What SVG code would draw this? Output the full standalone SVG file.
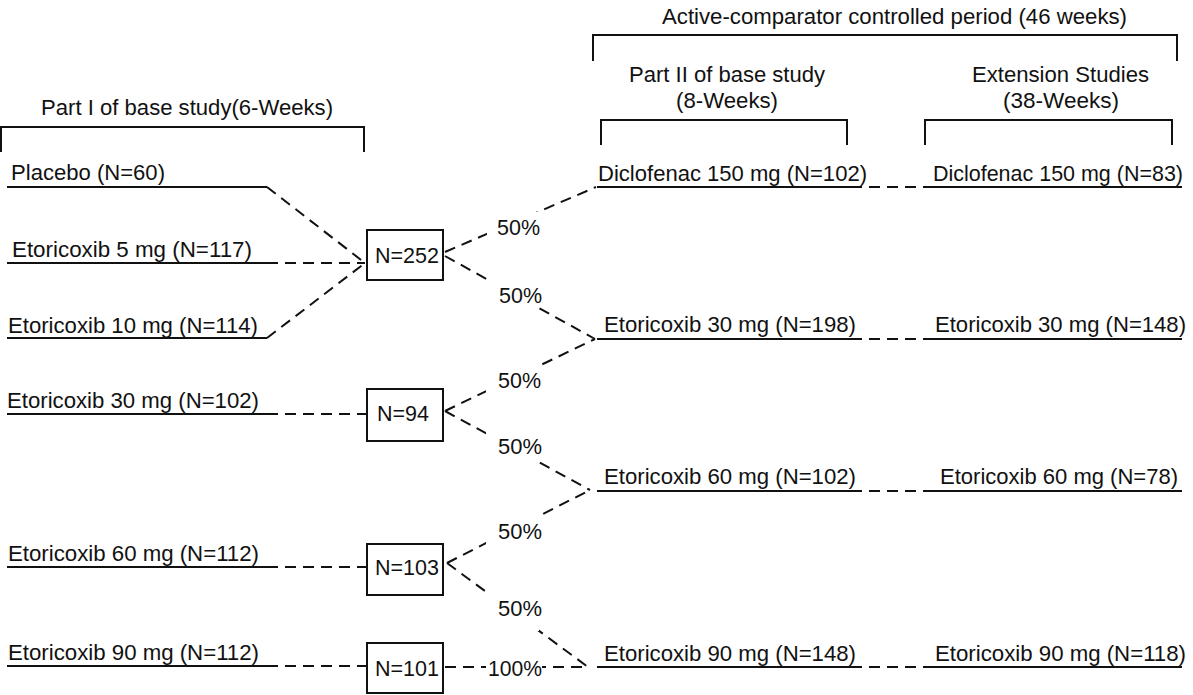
<svg xmlns="http://www.w3.org/2000/svg" width="1193" height="695" viewBox="0 0 1193 695">
<style>
text{font-family:"Liberation Sans",Arial,sans-serif;font-size:22px;fill:#111;}
.solid{stroke:#111;stroke-width:2;fill:none;}
.dash{stroke:#111;stroke-width:2;fill:none;stroke-dasharray:11 7;}
.box{stroke:#111;stroke-width:2;fill:#fff;}
.bg{fill:#fff;stroke:none;}
</style>
<rect x="0" y="0" width="1193" height="695" fill="#fff"/>

<g id="headers">
  <text x="662" y="24" textLength="465" lengthAdjust="spacingAndGlyphs">Active-comparator controlled period (46 weeks)</text>
  <path class="solid" d="M593,61 V35 H1177 V61"/>
  <text x="629" y="82" textLength="196" lengthAdjust="spacingAndGlyphs">Part II of base study</text>
  <text x="676" y="108" textLength="102" lengthAdjust="spacingAndGlyphs">(8-Weeks)</text>
  <path class="solid" d="M601,145 V120 H847 V145"/>
  <text x="972" y="82" textLength="177" lengthAdjust="spacingAndGlyphs">Extension Studies</text>
  <text x="1003" y="108" textLength="116" lengthAdjust="spacingAndGlyphs">(38-Weeks)</text>
  <path class="solid" d="M925,145 V120 H1172 V145"/>
  <text x="41" y="115" textLength="292" lengthAdjust="spacingAndGlyphs">Part I of base study(6-Weeks)</text>
  <path class="solid" d="M1,152 V127 H364 V152"/>
</g>

<g id="connectors">
  <path class="dash" d="M267,187 L365,263"/>
  <path class="dash" d="M267,263 L365,263"/>
  <path class="dash" d="M267,338 L365,263"/>
  <path class="dash" d="M445,252 L596,187"/>
  <path class="dash" d="M445,256 L595,339"/>
  <path class="dash" d="M267,414 L367,414"/>
  <path class="dash" d="M445,411 L595,339"/>
  <path class="dash" d="M445,411 L590,490"/>
  <path class="dash" d="M267,567 L367,567"/>
  <path class="dash" d="M447,563 L590,490"/>
  <path class="dash" d="M447,563 L588,667"/>
  <path class="dash" d="M267,666 L367,666"/>
  <path class="dash" d="M445,667 L588,667"/>
  <path class="dash" d="M851,187 L928,187"/>
  <path class="dash" d="M851,339 L928,339"/>
  <path class="dash" d="M851,491 L928,491"/>
  <path class="dash" d="M851,667 L928,667"/>
  <rect class="bg" x="487" y="212" width="53" height="30"/>
  <text x="497" y="235" textLength="43" lengthAdjust="spacingAndGlyphs">50%</text>
  <rect class="bg" x="486" y="279" width="53" height="30"/>
  <text x="499" y="303" textLength="43" lengthAdjust="spacingAndGlyphs">50%</text>
  <rect class="bg" x="486" y="365" width="54" height="30"/>
  <text x="498" y="388" textLength="43" lengthAdjust="spacingAndGlyphs">50%</text>
  <rect class="bg" x="486" y="431" width="53" height="31"/>
  <text x="498" y="454" textLength="44" lengthAdjust="spacingAndGlyphs">50%</text>
  <rect class="bg" x="486" y="516" width="53" height="30"/>
  <text x="498" y="539" textLength="44" lengthAdjust="spacingAndGlyphs">50%</text>
  <rect class="bg" x="484" y="593" width="55" height="38"/>
  <text x="498" y="616" textLength="44" lengthAdjust="spacingAndGlyphs">50%</text>
  <rect class="bg" x="486" y="655" width="56" height="25"/>
  <text x="488" y="676" textLength="54" lengthAdjust="spacingAndGlyphs">100%</text>
</g>

<g id="placebo">
  <text x="11" y="180" textLength="154" lengthAdjust="spacingAndGlyphs">Placebo (N=60)</text>
  <line class="solid" x1="7" y1="187" x2="267" y2="187"/>
</g>
<g id="etori5">
  <text x="12" y="257" textLength="240" lengthAdjust="spacingAndGlyphs">Etoricoxib 5 mg (N=117)</text>
  <line class="solid" x1="7" y1="263" x2="267" y2="263"/>
</g>
<g id="etori10">
  <text x="8" y="333" textLength="250" lengthAdjust="spacingAndGlyphs">Etoricoxib 10 mg (N=114)</text>
  <line class="solid" x1="7" y1="338" x2="267" y2="338"/>
</g>
<g id="etori30-p1">
  <text x="7" y="408" textLength="252" lengthAdjust="spacingAndGlyphs">Etoricoxib 30 mg (N=102)</text>
  <line class="solid" x1="7" y1="414" x2="267" y2="414"/>
</g>
<g id="etori60-p1">
  <text x="8" y="561" textLength="251" lengthAdjust="spacingAndGlyphs">Etoricoxib 60 mg (N=112)</text>
  <line class="solid" x1="7" y1="567" x2="267" y2="567"/>
</g>
<g id="etori90-p1">
  <text x="8" y="660" textLength="251" lengthAdjust="spacingAndGlyphs">Etoricoxib 90 mg (N=112)</text>
  <line class="solid" x1="7" y1="666" x2="267" y2="666"/>
</g>

<g id="box252">
  <rect class="box" x="367" y="230" width="76" height="50"/>
  <text x="375" y="263" textLength="64" lengthAdjust="spacingAndGlyphs">N=252</text>
</g>
<g id="box94">
  <rect class="box" x="367" y="389" width="76" height="52"/>
  <text x="377" y="421" textLength="52" lengthAdjust="spacingAndGlyphs">N=94</text>
</g>
<g id="box103">
  <rect class="box" x="367" y="544" width="76" height="51"/>
  <text x="375" y="575" textLength="64" lengthAdjust="spacingAndGlyphs">N=103</text>
</g>
<g id="box101">
  <rect class="box" x="367" y="643" width="76" height="50"/>
  <text x="375" y="676" textLength="64" lengthAdjust="spacingAndGlyphs">N=101</text>
</g>

<g id="diclo-p2">
  <text x="598" y="181" textLength="269" lengthAdjust="spacingAndGlyphs">Diclofenac 150 mg (N=102)</text>
  <line class="solid" x1="597" y1="187" x2="851" y2="187"/>
</g>
<g id="diclo-ext">
  <text x="933" y="181" textLength="250" lengthAdjust="spacingAndGlyphs">Diclofenac 150 mg (N=83)</text>
  <line class="solid" x1="928" y1="187" x2="1182" y2="187"/>
</g>
<g id="etori30-p2">
  <text x="604" y="332" textLength="252" lengthAdjust="spacingAndGlyphs">Etoricoxib 30 mg (N=198)</text>
  <line class="solid" x1="597" y1="339" x2="851" y2="339"/>
</g>
<g id="etori30-ext">
  <text x="935" y="332" textLength="251" lengthAdjust="spacingAndGlyphs">Etoricoxib 30 mg (N=148)</text>
  <line class="solid" x1="928" y1="339" x2="1182" y2="339"/>
</g>
<g id="etori60-p2">
  <text x="604" y="484" textLength="252" lengthAdjust="spacingAndGlyphs">Etoricoxib 60 mg (N=102)</text>
  <line class="solid" x1="597" y1="491" x2="851" y2="491"/>
</g>
<g id="etori60-ext">
  <text x="940" y="484" textLength="238" lengthAdjust="spacingAndGlyphs">Etoricoxib 60 mg (N=78)</text>
  <line class="solid" x1="928" y1="491" x2="1182" y2="491"/>
</g>
<g id="etori90-p2">
  <text x="604" y="661" textLength="252" lengthAdjust="spacingAndGlyphs">Etoricoxib 90 mg (N=148)</text>
  <line class="solid" x1="597" y1="667" x2="851" y2="667"/>
</g>
<g id="etori90-ext">
  <text x="935" y="661" textLength="251" lengthAdjust="spacingAndGlyphs">Etoricoxib 90 mg (N=118)</text>
  <line class="solid" x1="928" y1="667" x2="1182" y2="667"/>
</g>
</svg>
